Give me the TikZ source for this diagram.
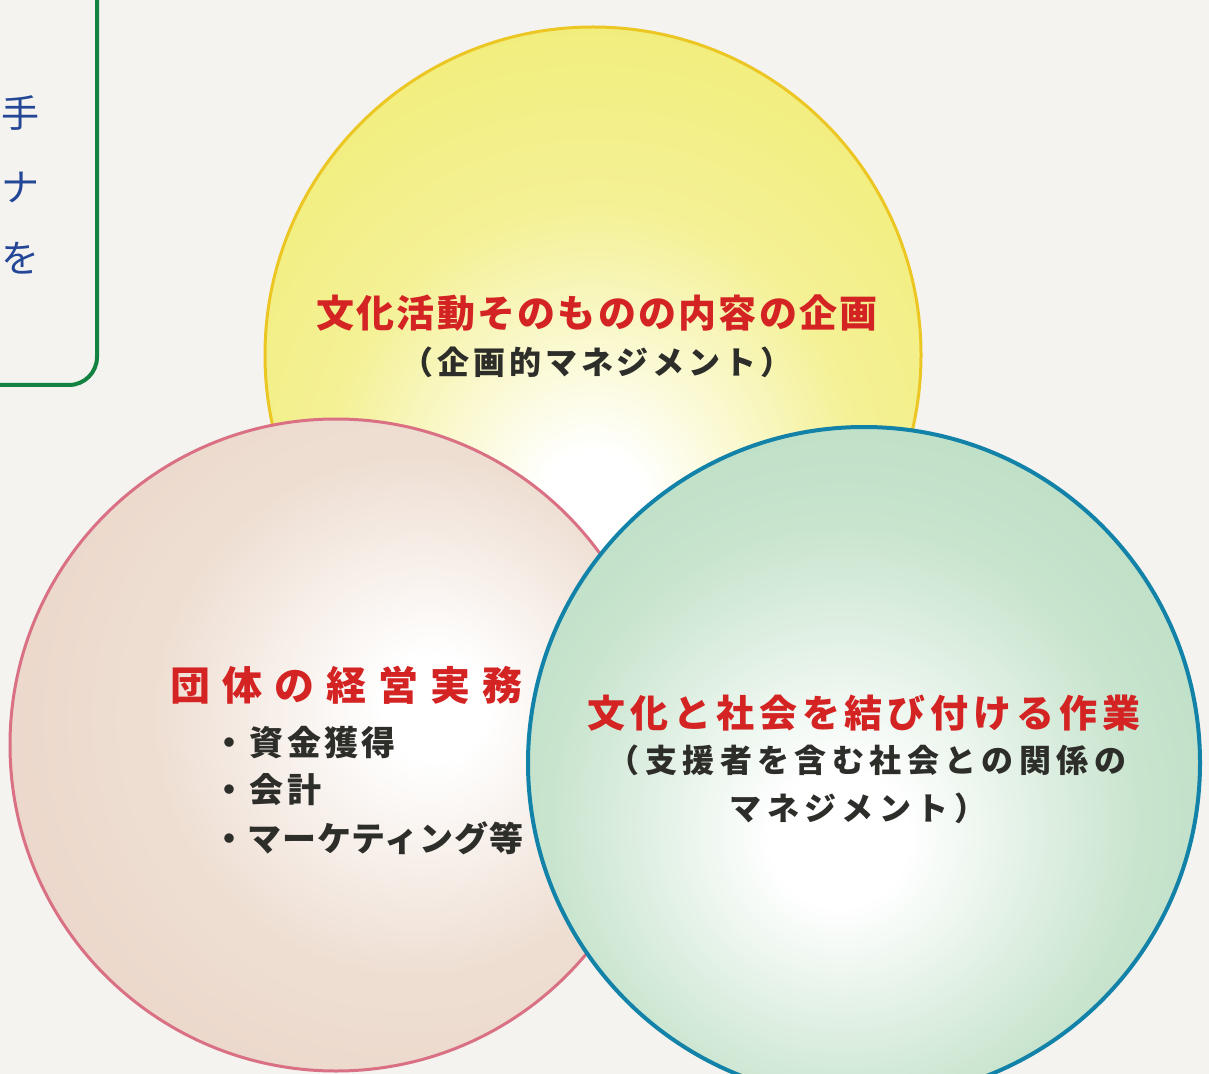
\documentclass[tikz,border=0pt]{standalone}
\usepackage{fontspec}
\newfontfamily\jp{Noto Sans CJK JP}
\definecolor{paper}{RGB}{244,243,239}
\definecolor{ylwline}{RGB}{236,198,35}
\definecolor{ylwmid}{RGB}{244,241,150}
\definecolor{ylwout}{RGB}{238,233,88}
\definecolor{pnkline}{RGB}{218,112,132}
\definecolor{pnkmid}{RGB}{238,222,210}
\definecolor{pnkout}{RGB}{232,204,190}
\definecolor{grnline}{RGB}{18,130,168}
\definecolor{grnmid}{RGB}{200,228,206}
\definecolor{grnout}{RGB}{165,211,180}
\definecolor{boxline}{RGB}{20,130,65}
\definecolor{bluetxt}{RGB}{35,70,150}
\definecolor{redtxt}{RGB}{212,35,35}
\definecolor{darktxt}{RGB}{45,45,42}
\pgfdeclareradialshading{ylwshade}{\pgfpoint{0bp}{-12bp}}{color(0bp)=(white);color(4bp)=(white);color(20bp)=(ylwmid);color(50bp)=(ylwout);color(75bp)=(ylwout)}
\pgfdeclareradialshading{pnkshade}{\pgfpoint{8bp}{3bp}}{color(0bp)=(white);color(4bp)=(white);color(20bp)=(pnkmid);color(50bp)=(pnkout);color(75bp)=(pnkout)}
\pgfdeclareradialshading{grnshade}{\pgfpoint{-2bp}{-6bp}}{color(0bp)=(white);color(5bp)=(white);color(22bp)=(grnmid);color(50bp)=(grnout);color(75bp)=(grnout)}
\tikzset{
  redtitle/.style={text=redtxt, inner sep=0pt, font=\jp\bfseries\fontsize{19pt}{22pt}\selectfont},
  subtext/.style={text=darktxt, inner sep=0pt, font=\jp\bfseries\fontsize{16pt}{19pt}\selectfont},
  listtext/.style={text=darktxt, inner sep=0pt, anchor=west, font=\jp\bfseries\fontsize{17pt}{20pt}\selectfont},
  bluechar/.style={text=bluetxt, inner sep=0pt, font=\jp\fontsize{19pt}{23pt}\selectfont},
}
\begin{document}
\begin{tikzpicture}[x=0.5pt,y=-0.5pt]
\useasboundingbox (0,0) rectangle (1209,1074);
\begin{scope}
\clip (0,0) rectangle (1209,1074);
\fill[paper] (0,0) rectangle (1209,1074);
% top-left box
\draw[boxline, line width=2pt, rounded corners=14pt] (-40,-40) rectangle (97,385);
% circles
\path[shading=ylwshade, draw=ylwline, line width=1.5pt] (593,355) circle[radius=328];
\path[shading=pnkshade, draw=pnkline, line width=1.5pt] (336,745) circle[radius=326];
\path[shading=grnshade, draw=grnline, line width=2pt] (864,763) circle[radius=336];
\end{scope}
% texts
\node[bluechar, anchor=west] (b1) at (1,113) {手};
\node[bluechar, anchor=west] (b2) at (1,188) {ナ};
\node[bluechar, anchor=west] (b3) at (1,258) {を};
\node[redtitle] (yt) at (597,313) {\addfontfeature{LetterSpace=6}文化活動そのものの内容の企画};
\node[subtext] (ys) at (597,362) {\addfontfeature{LetterSpace=12}（企画的マネジメント）};
\node[redtitle, font=\jp\bfseries\fontsize{20pt}{23pt}\selectfont] (pt) at (346,685) {\addfontfeature{LetterSpace=30}団体の経営実務};
\node[listtext] (p1) at (212,743) {\addfontfeature{LetterSpace=10}・資金獲得};
\node[listtext] (p2) at (212,790) {\addfontfeature{LetterSpace=10}・会計};
\node[listtext] (p3) at (212,838) {\addfontfeature{LetterSpace=3}・マーケティング等};
\node[redtitle] (gt) at (864,713) {\addfontfeature{LetterSpace=13}文化と社会を結び付ける作業};
\node[subtext] (gs1) at (867,760) {\addfontfeature{LetterSpace=17}（支援者を含む社会との関係の};
\node[subtext] (gs2) at (858,808) {\addfontfeature{LetterSpace=17}マネジメント）};
\end{tikzpicture}
\end{document}
